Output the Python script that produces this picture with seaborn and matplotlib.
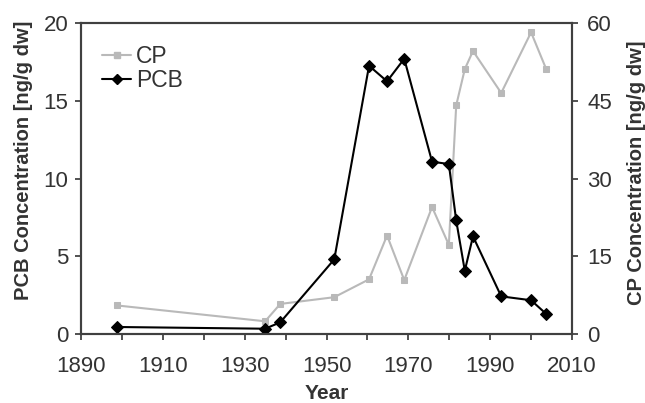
import pandas as pd
import seaborn as sns
import matplotlib.pyplot as plt
from matplotlib.ticker import MultipleLocator, FuncFormatter
from matplotlib.lines import Line2D

sns.set_style("ticks")
plt.rcParams["font.family"] = ["Liberation Sans", "DejaVu Sans"]

# sampling years (sediment core layers)
years = [1898.9, 1935.0, 1938.7, 1951.9, 1960.4, 1964.8, 1969.0, 1975.8,
         1979.9, 1981.7, 1983.8, 1985.8, 1992.7, 2000.0, 2003.7]
pcb = [0.45, 0.34, 0.75, 4.8, 17.25, 16.25, 17.7, 11.08,
       10.93, 7.3, 4.07, 6.28, 2.42, 2.17, 1.29]
cp = [5.5, 2.45, 5.8, 7.1, 10.55, 19.0, 10.4, 24.5,
      17.2, 44.1, 51.1, 54.6, 46.5, 58.2, 51.1]

df = pd.DataFrame({"Year": years, "PCB": pcb, "CP": cp})

txt = "#333333"
cp_col = "#b9b9b9"

fig = plt.figure(figsize=(6.45, 4.03), dpi=100)
ax = fig.add_axes([81 / 645, 1 - 334 / 403, 491 / 645, 311 / 403])
ax2 = ax.twinx()

sns.lineplot(data=df, x="Year", y="CP", ax=ax2, color=cp_col, marker="s",
             markersize=5, markeredgecolor=cp_col, linewidth=1.5)
sns.lineplot(data=df, x="Year", y="PCB", ax=ax, color="black", marker="D",
             markersize=6, markeredgecolor="black", linewidth=1.5)
ax.set_zorder(ax2.get_zorder() + 1)
ax.patch.set_visible(False)

ax.set_xlim(1890, 2010)
ax.set_ylim(0, 20)
ax2.set_ylim(0, 60)
ax.xaxis.set_major_locator(MultipleLocator(10))
ax.xaxis.set_major_formatter(FuncFormatter(lambda v, p: f"{int(v)}" if int(v) % 20 == 10 else ""))
ax.yaxis.set_major_locator(MultipleLocator(5))
ax2.yaxis.set_major_locator(MultipleLocator(15))

for a in (ax, ax2):
    a.tick_params(direction="out", length=4, width=1.2, colors=txt,
                  labelsize=16, labelcolor=txt, pad=5)
    for s in a.spines.values():
        s.set_visible(True)
        s.set_color("#404040")
        s.set_linewidth(1.5)
ax.tick_params(axis="x", pad=12)
ax2.tick_params(axis="y", pad=7)

ax.set_xlabel("Year", fontsize=15, fontweight="bold", color=txt)
ax.set_ylabel("PCB Concentration [ng/g dw]", fontsize=14.5, fontweight="bold",
              color=txt)
ax2.set_ylabel("CP Concentration [ng/g dw]", fontsize=14.5, fontweight="bold",
               color=txt)
ax.xaxis.set_label_coords(0.5, -0.16)
ax.yaxis.set_label_coords(-0.098, 0.56)
ax2.yaxis.set_label_coords(1.112, 0.52)

handles = [
    Line2D([], [], color=cp_col, marker="s", markersize=4, linewidth=1.5),
    Line2D([], [], color="black", marker="D", markersize=5, linewidth=1.5),
]
ax.legend(handles, ["CP", "PCB"], loc="upper left", frameon=False,
          fontsize=16.5, handlelength=1.3, handletextpad=0.2, labelspacing=0.05,
          bbox_to_anchor=(0.0, 0.995), labelcolor=txt)

fig.savefig("out.png", dpi=100)
